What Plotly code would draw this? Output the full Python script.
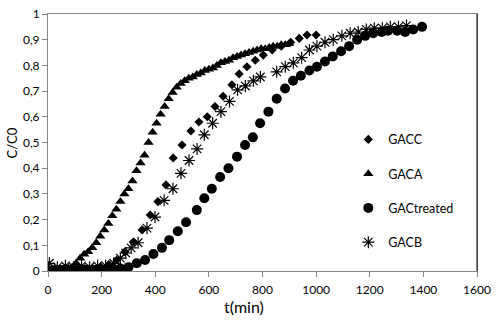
import plotly.graph_objects as go

# ---------------- data ----------------
gacc_t = [17, 47, 77, 107, 137, 167, 197, 227, 257, 287, 318, 351, 381, 410, 440,
          467, 500, 533, 563, 594, 623, 653, 686, 713, 742, 773, 803, 836, 870, 905,
          937, 966, 1000]
gacc_c = [0.005, 0.005, 0.01, 0.005, 0.01, 0.01, 0.015, 0.025, 0.043, 0.075, 0.113,
          0.16, 0.218, 0.27, 0.335, 0.44, 0.49, 0.545, 0.58, 0.60, 0.64, 0.68, 0.725,
          0.767, 0.795, 0.82, 0.84, 0.86, 0.875, 0.89, 0.905, 0.918, 0.918]

gaca_t = [0, 15, 30, 45, 60, 75, 90, 105, 120, 135, 150, 165, 180, 195, 210, 225, 240,
          255, 270, 285, 300, 315, 330, 345, 360, 375, 390, 405, 420, 435, 450, 465,
          480, 495, 510, 525, 540, 555, 570, 585, 600, 615, 630, 645, 660, 675, 690,
          705, 720, 735, 750, 765, 780, 795, 810, 825, 840, 855, 870, 885, 900]
gaca_c = [0.01, 0.01, 0.005, 0.01, 0.01, 0.01, 0.015, 0.03, 0.05, 0.065, 0.075, 0.09,
          0.11, 0.135, 0.16, 0.185, 0.215, 0.24, 0.27, 0.30, 0.32, 0.35, 0.39, 0.42,
          0.45, 0.50, 0.54, 0.575, 0.61, 0.64, 0.67, 0.695, 0.715, 0.73, 0.74, 0.75,
          0.755, 0.765, 0.77, 0.78, 0.785, 0.79, 0.80, 0.81, 0.815, 0.82, 0.83, 0.835,
          0.84, 0.845, 0.85, 0.855, 0.86, 0.865, 0.865, 0.87, 0.875, 0.875, 0.88, 0.88,
          0.885]

treated_t = [0, 30, 60, 90, 120, 150, 180, 210, 240, 270, 300, 331, 362, 393, 425, 452,
             484, 515, 555, 583, 611, 642, 673, 705, 735, 764, 791, 822, 853, 884, 914,
             943, 975, 1003, 1033, 1062, 1093, 1123, 1153, 1183, 1213, 1245, 1268, 1302,
             1332, 1362, 1395]
treated_c = [0.0, 0.005, 0.005, 0.0, 0.005, 0.005, 0.005, 0.005, 0.01, 0.01, 0.015, 0.03,
             0.043, 0.066, 0.09, 0.12, 0.155, 0.19, 0.237, 0.283, 0.32, 0.366, 0.40,
             0.445, 0.49, 0.52, 0.575, 0.62, 0.67, 0.71, 0.74, 0.76, 0.78, 0.795, 0.815,
             0.835, 0.855, 0.875, 0.90, 0.915, 0.925, 0.93, 0.935, 0.935, 0.93, 0.94, 0.95]

gacb_t = [5, 35, 65, 95, 125, 155, 185, 215, 245, 270, 290, 310, 336, 369, 399, 433, 466,
          496, 526, 556, 583, 614, 645, 677, 707, 736, 766, 792, 853, 885, 915, 946, 975,
          1003, 1033, 1064, 1096, 1127, 1157, 1187, 1217, 1247, 1277, 1307, 1337]
gacb_c = [0.03, 0.015, 0.02, 0.015, 0.02, 0.015, 0.02, 0.02, 0.03, 0.05, 0.07, 0.09, 0.11,
          0.167, 0.21, 0.275, 0.32, 0.38, 0.43, 0.475, 0.53, 0.575, 0.62, 0.66, 0.705,
          0.72, 0.74, 0.755, 0.775, 0.795, 0.81, 0.83, 0.86, 0.875, 0.89, 0.90, 0.915,
          0.925, 0.93, 0.94, 0.945, 0.945, 0.95, 0.95, 0.955]

x_ticks = [0, 200, 400, 600, 800, 1000, 1200, 1400, 1600]
y_ticks = [0, 0.1, 0.2, 0.3, 0.4, 0.5, 0.6, 0.7, 0.8, 0.9, 1]
y_tick_labels = ["0", "0,1", "0,2", "0,3", "0,4", "0,5", "0,6", "0,7", "0,8", "0,9", "1"]

FONT = "Lato, 'Open Sans', sans-serif"

fig = go.Figure()
fig.add_trace(go.Scatter(x=gacc_t, y=gacc_c, mode="markers", name="GACC",
                         legendgroup="a",
                         marker=dict(symbol="diamond", size=7, color="black")))
fig.add_trace(go.Scatter(x=gaca_t, y=gaca_c, mode="markers", name="GACA",
                         legendgroup="b",
                         marker=dict(symbol="triangle-up", size=9, color="black")))
fig.add_trace(go.Scatter(x=treated_t, y=treated_c, mode="markers", name="GACtreated",
                         legendgroup="c",
                         marker=dict(symbol="circle", size=10, color="black")))
fig.add_trace(go.Scatter(x=gacb_t, y=gacb_c, mode="markers", name="GACB",
                         legendgroup="d",
                         marker=dict(symbol="asterisk-open", size=10, color="black",
                                     line=dict(color="black", width=1.2))))

fig.update_layout(
    width=500, height=330,
    margin=dict(l=48, r=23, t=14, b=59, autoexpand=False),
    paper_bgcolor="white", plot_bgcolor="white",
    font=dict(family=FONT, size=12, color="black"),
    showlegend=True,
    legend=dict(x=0.70, y=0.569, xanchor="left", yanchor="top",
                bgcolor="rgba(0,0,0,0)", tracegroupgap=15,
                font=dict(family=FONT, size=12.5), itemsizing="trace"),
    xaxis=dict(range=[0, 1600], tickvals=x_ticks, ticks="outside", ticklen=5,
               tickcolor="#868686", linecolor="#868686", linewidth=1, mirror=True,
               showgrid=False, zeroline=False, automargin=False,
               ticklabelstandoff=3, ticklabeloverflow="allow",
               tickfont=dict(size=12)),
    yaxis=dict(range=[0, 1], tickvals=y_ticks, ticktext=y_tick_labels,
               ticks="outside", ticklen=5, tickcolor="#868686",
               linecolor="#868686", linewidth=1, mirror=True,
               showgrid=False, zeroline=False, automargin=False,
               ticklabeloverflow="allow", tickfont=dict(size=12)),
    annotations=[
        dict(text="t(min)", xref="paper", yref="paper", x=0.457, y=-0.138,
             xanchor="center", yanchor="middle", showarrow=False,
             font=dict(family=FONT, size=16)),
        dict(text="C/C0", xref="paper", yref="paper", x=-0.084, y=0.5,
             xanchor="center", yanchor="middle", showarrow=False, textangle=-90,
             font=dict(family=FONT, size=13)),
    ],
    shapes=[dict(type="line", xref="paper", yref="paper", x0=1, x1=1, y0=0, y1=1,
                 line=dict(color="black", width=1))],
)

# remove the default 8px page margin so the figure fills the window exactly
fig.write_html("out.html",
               config={"displayModeBar": False},
               post_script="document.body.style.margin='0';"
                           "document.body.style.overflow='hidden';")
